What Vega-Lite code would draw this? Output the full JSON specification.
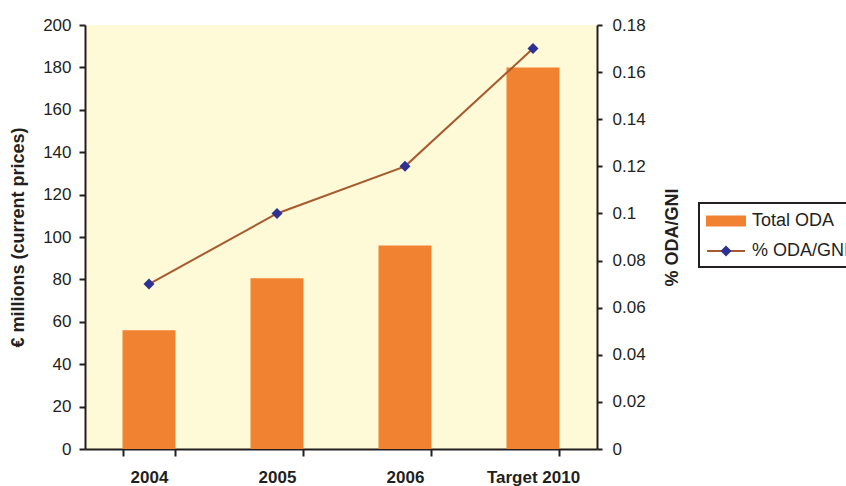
{
  "$schema": "https://vega.github.io/schema/vega-lite/v6.json",
  "width": 512,
  "height": 424,
  "autosize": "none",
  "padding": {"left": 85, "top": 25, "right": 249, "bottom": 37},
  "config": {
    "font": "Liberation Sans",
    "view": {"fill": "#fef9d7", "stroke": null},
    "axis": {
      "domainColor": "#231f20",
      "domainWidth": 2,
      "tickColor": "#231f20",
      "tickWidth": 2,
      "labelColor": "#231f20",
      "labelFontSize": 17,
      "labelFont": "Liberation Sans",
      "grid": false,
      "titleColor": "#231f20",
      "titleFontSize": 18,
      "titleFontWeight": "bold",
      "titleFont": "Liberation Sans"
    },
    "legend": {"labelFont": "Liberation Sans"}
  },
  "data": {
    "values": [
      {"year": "2004", "oda": 56, "pct": 0.07},
      {"year": "2005", "oda": 80.5, "pct": 0.10},
      {"year": "2006", "oda": 96, "pct": 0.12},
      {"year": "Target 2010", "oda": 180, "pct": 0.17}
    ]
  },
  "encoding": {
    "x": {
      "field": "year",
      "type": "nominal",
      "sort": null,
      "scale": {"paddingInner": 0.586, "paddingOuter": 0.293},
      "axis": {
        "title": null,
        "labelAngle": 0,
        "labelFontWeight": "bold",
        "tickBand": "extent",
        "tickSize": 7,
        "labelPadding": 13
      }
    }
  },
  "layer": [
    {
      "mark": {"type": "bar"},
      "encoding": {
        "y": {
          "field": "oda",
          "type": "quantitative",
          "scale": {"domain": [0, 200], "nice": false},
          "axis": {
            "title": "€ millions (current prices)",
            "values": [0, 20, 40, 60, 80, 100, 120, 140, 160, 180, 200],
            "tickSize": 6,
            "labelPadding": 8,
            "titlePadding": 15
          }
        },
        "color": {
          "datum": "Total ODA",
          "type": "nominal",
          "scale": {"domain": ["Total ODA", "% ODA/GNI"], "range": ["#f08232", "#a65a2e"]},
          "legend": {
            "orient": "none",
            "legendX": 614,
            "legendY": 178,
            "title": null,
            "strokeColor": "#231f20",
            "padding": 7,
            "symbolSize": 400,
            "labelFontSize": 18,
            "labelColor": "#231f20",
            "labelOffset": 24,
            "rowPadding": 10,
            "labelLimit": 300,
            "encode": {
              "legend": {"update": {"strokeWidth": {"value": 2}}},
              "symbols": {
                "update": {
                  "shape": {"signal": "datum.value === 'Total ODA' ? 'M-1,-0.45H2.8V0.45H-1Z' : 'M-1,0H2.8'"},
                  "fill": {"signal": "datum.value === 'Total ODA' ? '#f08232' : 'transparent'"},
                  "stroke": {"signal": "datum.value === 'Total ODA' ? 'transparent' : '#a65a2e'"},
                  "strokeWidth": {"value": 2},
                  "opacity": {"value": 1}
                }
              }
            }
          }
        }
      }
    },
    {
      "encoding": {
        "y": {
          "field": "pct",
          "type": "quantitative",
          "scale": {"domain": [0, 0.18], "nice": false},
          "axis": {
            "orient": "right",
            "title": "% ODA/GNI",
            "titleAngle": 270,
            "titleBaseline": "bottom",
            "format": ".2~f",
            "values": [0, 0.02, 0.04, 0.06, 0.08, 0.1, 0.12, 0.14, 0.16, 0.18],
            "tickSize": 5,
            "labelPadding": 10,
            "titlePadding": 36
          }
        }
      },
      "layer": [
        {
          "mark": {"type": "line", "strokeWidth": 2},
          "encoding": {"color": {"datum": "% ODA/GNI", "type": "nominal"}}
        },
        {
          "mark": {"type": "point", "shape": "diamond", "filled": true, "size": 121, "color": "#2e3192", "opacity": 1},
          "encoding": {
            "shape": {
              "datum": "% ODA/GNI",
              "type": "nominal",
              "scale": {"range": ["diamond"]},
              "legend": {
                "orient": "none",
                "legendX": 634.5,
                "legendY": 219.5,
                "title": null,
                "padding": 0,
                "symbolSize": 121,
                "symbolFillColor": "#2e3192",
                "symbolStrokeColor": "#2e3192",
                "labelFontSize": 1,
                "labelOpacity": 0,
                "labelColor": "transparent"
              }
            }
          }
        }
      ]
    }
  ],
  "resolve": {"scale": {"y": "independent", "color": "shared"}}
}
